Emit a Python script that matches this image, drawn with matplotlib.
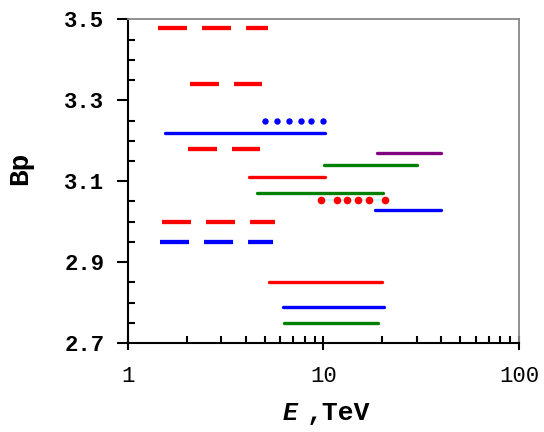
import matplotlib
matplotlib.use('Agg')
import matplotlib.pyplot as plt
from matplotlib.ticker import FixedLocator, NullFormatter, LogLocator
import numpy as np

# horizontal segments: level, start energy, end energy (TeV)
dash_y = [3.48, 3.34, 3.18, 3.00, 2.95]
dash_x0 = [1.42, 2.08, 2.03, 1.50, 1.46]
dash_x1 = [5.2, 4.85, 4.73, 5.65, 5.5]
dash_col = ['red', 'red', 'red', 'red', 'blue']

solid_y = [3.22, 3.17, 3.14, 3.11, 3.07, 3.03, 2.85, 2.79, 2.75]
solid_x0 = [1.55, 18.7, 10.1, 4.16, 4.55, 18.3, 5.25, 6.2, 6.3]
solid_x1 = [10.2, 40.0, 30.0, 10.2, 20.2, 40.0, 19.9, 20.3, 18.9]
solid_col = ['blue', 'purple', 'green', 'red', 'green', 'blue', 'red', 'blue', 'green']

blue_dot_x = [5.0, 5.8, 6.7, 7.7, 8.6, 10.0]
blue_dot_y = 3.25
red_dot_x = [9.7, 11.7, 13.2, 15.1, 17.1, 20.6]
red_dot_y = 3.053

y_ticks = [2.7, 2.9, 3.1, 3.3, 3.5]
x_ticks = [1, 10, 100]

plt.rcParams['lines.scale_dashes'] = False
mono = 'Liberation Mono'

fig = plt.figure(figsize=(5.44, 4.32), dpi=100)
ax = fig.add_axes([0.2353, 0.206, 0.7187, 0.749])

colmap = {'red': '#ff0000', 'blue': '#0000ff', 'green': '#008000', 'purple': '#800080'}

for y, a, b, c in zip(dash_y, dash_x0, dash_x1, dash_col):
    ax.plot([a, b], [y, y], color=colmap[c], lw=3.1, linestyle=(0, (20.9, 10.8)),
            solid_capstyle='butt', dash_capstyle='butt')

for y, a, b, c in zip(solid_y, solid_x0, solid_x1, solid_col):
    ax.plot([a, b], [y, y], color=colmap[c], lw=2.4, solid_capstyle='round')

ax.plot(blue_dot_x, [blue_dot_y]*len(blue_dot_x), 'o', color='#0000ff', ms=4.6, mec='none')
ax.plot([red_dot_x[0], red_dot_x[-1]], [red_dot_y, red_dot_y], color='#ccffff', lw=1.5)
ax.plot(red_dot_x, [red_dot_y]*len(red_dot_x), 'o', color='#ff0000', ms=5.5, mec='none')

ax.set_xscale('log')
ax.set_xlim(1, 100)
ax.set_ylim(2.7, 3.5)

ax.set_xticks(x_ticks)
ax.set_xticklabels([str(t) for t in x_ticks], fontfamily=mono, fontsize=16)
ax.xaxis.set_minor_locator(LogLocator(base=10, subs=np.arange(2, 10)))
ax.xaxis.set_minor_formatter(NullFormatter())
ax.set_yticks(y_ticks)
ax.set_yticklabels(['%.1f' % t for t in y_ticks], fontfamily=mono, fontsize=16, fontweight='bold')
ax.yaxis.set_minor_locator(FixedLocator(np.arange(2.7, 3.501, 0.05)))

ax.tick_params(axis='x', which='major', direction='inout', length=9.5, width=1.5, pad=12)
ax.tick_params(axis='x', which='minor', direction='in', length=5, width=1.5)
ax.tick_params(axis='y', which='major', direction='out', length=8, width=1.5, pad=9)
ax.tick_params(axis='y', which='minor', direction='in', length=5, width=1.5)

for s in ['left', 'bottom']:
    ax.spines[s].set_linewidth(1.5)
    ax.spines[s].set_color('black')
for s in ['top', 'right']:
    ax.spines[s].set_linewidth(1.3)
    ax.spines[s].set_color('#888888')

fig.text(20/544, 1-168/432, 'Bp', rotation=90, ha='center', va='center',
         fontfamily=mono, fontweight='bold', fontsize=20)
fig.text(290/544, 1-413/432, 'E', ha='center', va='center', fontfamily=mono,
         fontweight='bold', fontstyle='italic', fontsize=18)
fig.text(307/544, 1-413/432, ',TeV', ha='left', va='center', fontfamily=mono,
         fontweight='bold', fontsize=19)

fig.savefig('out.png', dpi=100)
